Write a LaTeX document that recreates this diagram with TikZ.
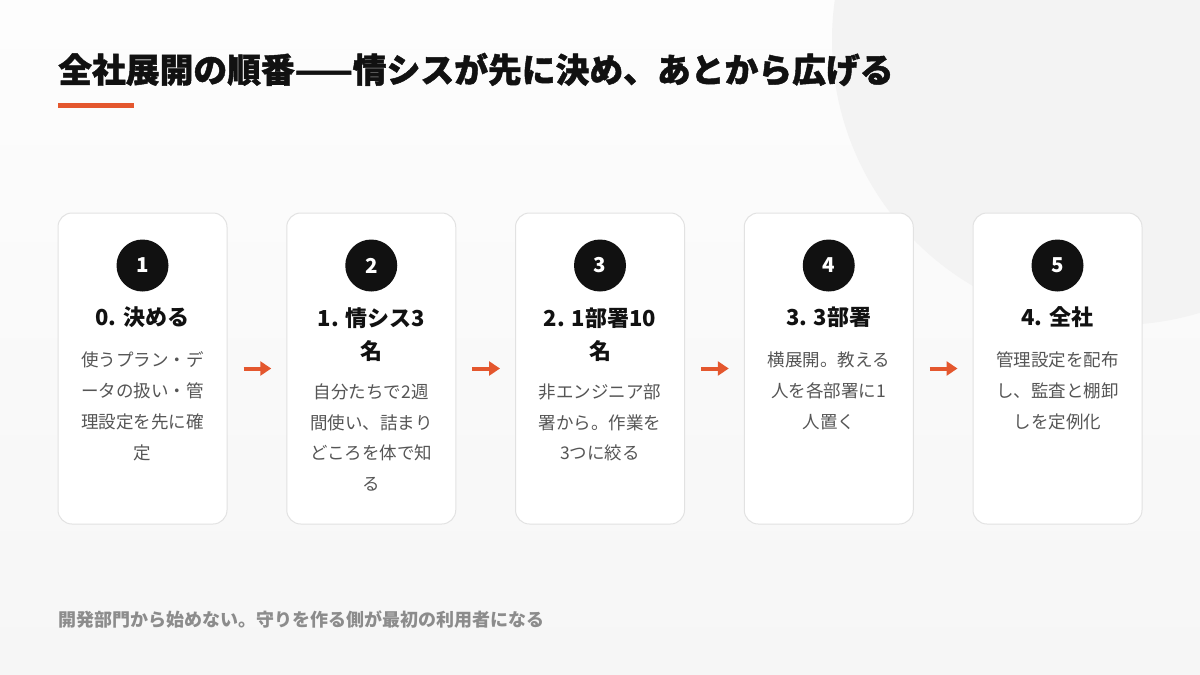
\documentclass[tikz,border=0pt]{standalone}
\usepackage{fontspec}
\setmainfont{Noto Sans CJK JP}
\newfontfamily\titlefont[BoldFeatures={FakeBold=1.3}]{Noto Sans CJK JP}
\usetikzlibrary{arrows.meta}
\definecolor{accent}{HTML}{E4572E}
\definecolor{ink}{HTML}{111111}
\definecolor{bodygray}{HTML}{555555}
\definecolor{footgray}{HTML}{8C8C8C}
\definecolor{cardline}{HTML}{E2E2E2}
\definecolor{bgtop}{HTML}{FDFDFD}
\definecolor{bgbot}{HTML}{F6F6F6}
\definecolor{blob}{HTML}{F3F3F3}
\begin{document}
\begin{tikzpicture}[x=1pt,y=-1pt,
  card/.style={draw=cardline, line width=1pt, fill=white, rounded corners=14pt,
    minimum width=169pt, minimum height=311pt, inner sep=0pt},
  numdot/.style={circle, fill=ink, minimum size=52pt, inner sep=0pt, text=white,
    font=\fontsize{20.5}{24}\selectfont\bfseries},
  head/.style={anchor=base, inner sep=0pt, text=ink, font=\fontsize{22}{26}\selectfont\bfseries},
  bodytxt/.style={anchor=base, inner sep=0pt, text=bodygray, font=\fontsize{17.5}{21}\selectfont},
  flow/.style={draw=accent, line width=4pt, -{Triangle[length=11pt,width=14pt]},
    shorten <=16pt, shorten >=15pt}
]
\useasboundingbox (0,0) rectangle (1200,675);
\shade[top color=bgtop, bottom color=bgbot] (0,0) rectangle (1200,675);
\begin{scope}
\clip (0,0) rectangle (1200,675);
\fill[blob] (1117,40) circle (285);
\end{scope}

% title
\node[anchor=base west, inner sep=0pt, text=ink, font=\fontsize{33.8}{38}\selectfont\titlefont\bfseries] (title) at (58,82.5) {全社展開の順番——情シスが先に決め、あとから広げる};
\fill[accent] (58,103) rectangle (134,107.5);

% cards
\foreach \i/\cx in {1/142.5, 2/371.25, 3/600, 4/828.75, 5/1057.5} {
  \node[card] (c\i) at (\cx,368.5) {};
  \node[numdot] (n\i) at (\cx,265.5) {\i};
}

% card 1
\node[head] (h1-1) at (142.5,325.5) {0. 決める};
\foreach \t [count=\k] in {使うプラン・デ, ータの扱い・管, 理設定を先に確, 定}
  \node[bodytxt] (b1-\k) at (142.5,{366.6+31*(\k-1)}) {\t};

% card 2
\node[head] (h2-1) at (371.25,326.5) {1. 情シス3};
\node[head] (h2-2) at (371.25,359.5) {名};
\foreach \t [count=\k] in {自分たちで2週, 間使い、詰まり, どころを体で知, る}
  \node[bodytxt] (b2-\k) at (371.25,{398.6+30.5*(\k-1)}) {\t};

% card 3
\node[head] (h3-1) at (600,326.5) {2. 1部署10};
\node[head] (h3-2) at (600,359.5) {名};
\foreach \t [count=\k] in {非エンジニア部, 署から。作業を, 3つに絞る}
  \node[bodytxt] (b3-\k) at (600,{398.6+30.5*(\k-1)}) {\t};

% card 4
\node[head] (h4-1) at (828.75,325.5) {3. 3部署};
\foreach \t [count=\k] in {横展開。教える, 人を各部署に1, 人置く}
  \node[bodytxt] (b4-\k) at (828.75,{366.6+31*(\k-1)}) {\t};

% card 5
\node[head] (h5-1) at (1057.5,325.5) {4. 全社};
\foreach \t [count=\k] in {管理設定を配布, し、監査と棚卸, しを定例化}
  \node[bodytxt] (b5-\k) at (1057.5,{366.6+31*(\k-1)}) {\t};

% arrows
\foreach \a/\b in {1/2, 2/3, 3/4, 4/5}
  \draw[flow] (c\a.east) -- (c\b.west);

% footer
\node[anchor=base west, inner sep=0pt, text=footgray, font=\fontsize{18}{22}\selectfont\bfseries] (foot) at (58,626) {開発部門から始めない。守りを作る側が最初の利用者になる};
\end{tikzpicture}
\end{document}
